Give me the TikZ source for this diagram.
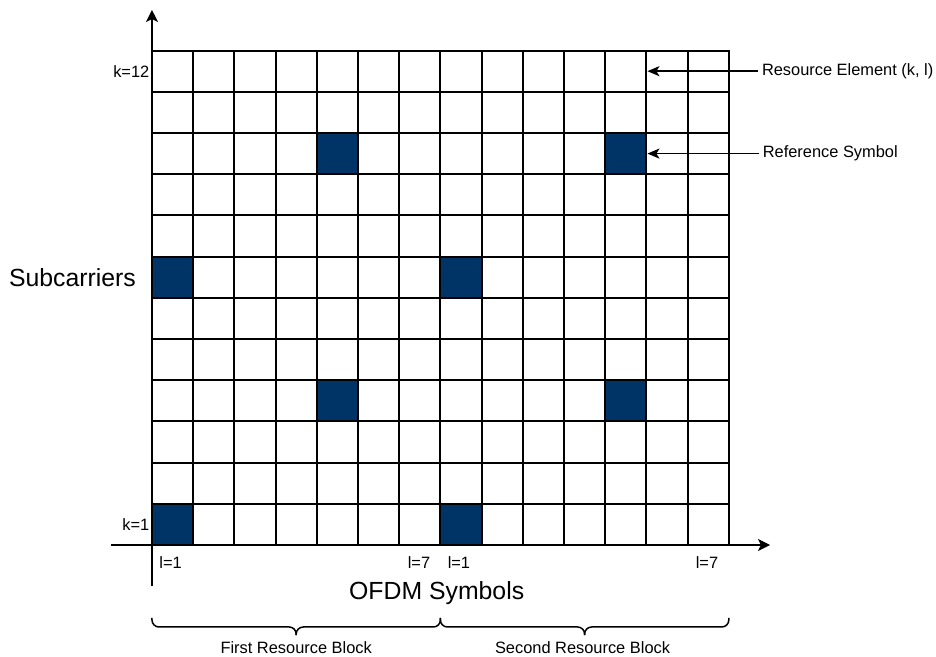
\documentclass[tikz,border=0pt]{standalone}
\usepackage{fontspec}
\setmainfont{Liberation Sans}
\usetikzlibrary{arrows.meta}
\definecolor{rsblue}{RGB}{0,51,102}

\begin{document}
\begin{tikzpicture}[x=41.2pt,y=41.2pt,
    re/.style={draw,line width=2pt,minimum size=41.2pt,inner sep=0pt,fill=white},
    rs/.style={re,fill=rsblue},
    axis/.style={line width=1.3pt,-{Stealth[length=12pt,width=12pt,inset=3pt]}},
    ptr/.style={line width=1.8pt,-{Stealth[length=12pt,width=10pt,inset=3pt]}},
    brc/.style={line width=1.5pt,rounded corners=7pt},
    big/.style={font=\fontsize{24.8}{28}\selectfont},
    every node/.style={font=\fontsize{16.4}{19}\selectfont}]
  \useasboundingbox (-3.689,-2.718) rectangle (19.029,13.228);
  % axes
  \coordinate (xs) at (-1,0);  \coordinate (xe) at (15,0);
  \coordinate (ys) at (0,-1);  \coordinate (ye) at (0,12.985);
  \draw[axis] (xs) -- (xe);
  \draw[axis] (ys) -- (ye);
  % resource grid: 14 OFDM symbols x 12 subcarriers
  \foreach \l in {1,...,14}{ \foreach \k in {1,...,12}{
    \node[re] (c-\l-\k) at (\l-0.5,\k-0.5) {}; }}
  % reference symbols
  \foreach \l/\k in {1/1,8/1,5/4,12/4,1/7,8/7,5/10,12/10}{
    \node[rs] (rs-\l-\k) at (c-\l-\k) {}; }
  % indices
  \node[anchor=east,inner sep=2.5pt] (k12) at (0,11.5) {k=12};
  \node[anchor=east,inner sep=2.5pt] (k1) at (0,0.5) {k=1};
  \node (la1) at (0.45,-0.42) {l=1};
  \node (la7) at (6.48,-0.42) {l=7};
  \node (lb1) at (7.45,-0.42) {l=1};
  \node (lb7) at (13.47,-0.42) {l=7};
  % axis titles
  \node[big] (sub) at (-1.93,6.48) {Subcarriers};
  \node[big] (ofdm) at (6.91,-1.17) {OFDM Symbols};
  % pointers
  \node[anchor=west] (elem) at (14.72,11.5) {Resource Element (k, l)};
  \node[anchor=west] (refs) at (14.74,9.5) {Reference Symbol};
  \draw[ptr] (elem.west) -- (c-12-12.east);
  \draw[ptr] (refs.west) -- (rs-12-10.east);
  % resource blocks (curly braces)
  \foreach \a/\b in {0/7,7/14}{
    \draw[brc] (\a,-1.77) -- (\a,-1.99) -- ({(\a+\b)/2},-1.99) -- ({(\a+\b)/2},-2.19);
    \draw[brc] (\b,-1.77) -- (\b,-1.99) -- ({(\a+\b)/2},-1.99) -- ({(\a+\b)/2},-2.19);
  }
  \node (rb1) at (3.5,-2.5) {First Resource Block};
  \node (rb2) at (10.45,-2.5) {Second Resource Block};
\end{tikzpicture}
\end{document}
